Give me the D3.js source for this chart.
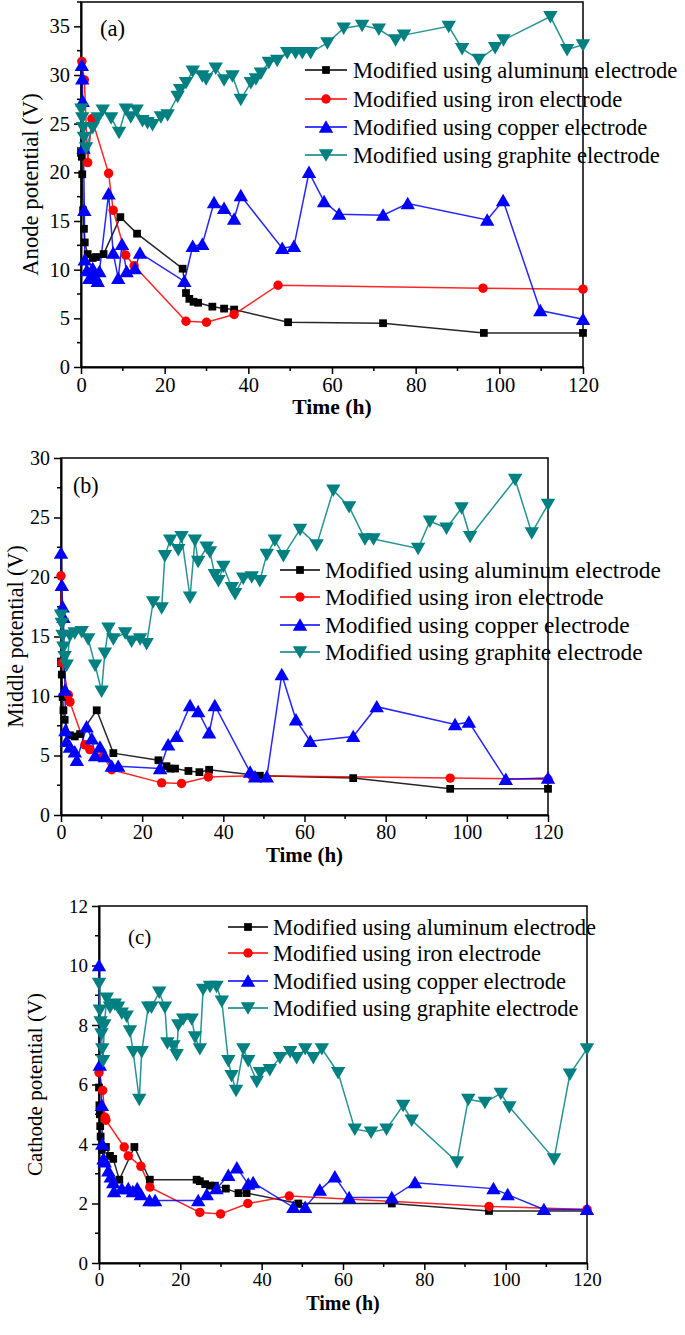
<!DOCTYPE html>
<html><head><meta charset="utf-8">
<script src="https://cdn.jsdelivr.net/npm/d3@7"></script>
<style>body{margin:0;background:#fff}svg{display:block}text{font-family:"Liberation Serif","Times New Roman",serif;fill:#000}</style>
</head><body>
<svg id="c" width="685" height="1335"></svg>
<script>
// ---------- data ----------
const seriesNames = ["Modified using aluminum electrode","Modified using iron electrode","Modified using copper electrode","Modified using graphite electrode"];
const xTicks = [0,20,40,60,80,100,120];
const yTicksA = [0,5,10,15,20,25,30,35];
const yTicksB = [0,5,10,15,20,25,30];
const yTicksC = [0,2,4,6,8,10,12];

// (a) Anode potential
const aAluminum = [[0,22],[0.2,21.6],[0.3,19.8],[0.5,16.1],[0.7,14.2],[0.9,12.8],[1.6,11.6],[2.8,11.2],[3.6,11.3],[5.4,11.6],[9.4,15.4],[13.4,13.7],[24.3,10.1],[25.1,7.6],[25.9,7],[26.9,6.7],[28,6.6],[31.4,6.2],[34.2,6],[36.6,5.9],[49.5,4.6],[72.2,4.5],[96.3,3.5],[120,3.5]];
const aIron = [[0.2,31.4],[0.8,29.5],[1.6,21],[2.6,25.5],[6.6,19.9],[7.7,16.1],[10.7,11.5],[12.7,10.4],[25.1,4.7],[30,4.6],[36.6,5.4],[47.1,8.4],[96.1,8.1],[120,8]];
const aCopper = [[0.2,31],[0.3,29.6],[0.4,27.3],[0.6,22.5],[0.8,16.1],[0.9,11],[1.4,9.9],[2,9.1],[2.8,10.1],[3.4,9.3],[4,8.8],[4.4,9.8],[6.6,17.8],[7.7,11.7],[8.9,9.1],[9.8,12.6],[10.9,9.8],[12.9,10.1],[14.1,11.7],[24.7,8.8],[26.7,12.4],[29,12.6],[31.8,16.9],[34.2,16.3],[36.6,15.2],[38.2,17.6],[48.1,12.2],[50.9,12.4],[54.5,20],[58.1,17],[61.7,15.7],[72.2,15.6],[78.1,16.8],[97.1,15.1],[100.9,17.1],[109.8,5.8],[120,4.9]];
const aGraphite = [[0.1,26.5],[0.3,25.6],[0.5,24.6],[0.7,23.6],[1.2,22.5],[2.8,24.6],[4,25.6],[5.2,26.4],[7.2,25.6],[9.1,24.1],[10.7,26.5],[11.9,25.7],[13.3,26.4],[14.7,25.3],[15.9,25.1],[17.1,24.9],[19.1,25.7],[20.7,25.9],[23.1,27.8],[23.7,28.5],[25.1,29.2],[26.7,30.4],[29,29.9],[29.9,29.6],[32.2,30.7],[34.2,29.5],[36.2,29.9],[38.2,27.5],[40.6,29.2],[41.8,29.6],[43,30.2],[44.9,31.3],[46.9,31.5],[49.3,32.3],[51.3,32.3],[52.9,32.3],[54.9,32.3],[58.9,33.3],[62.8,34.8],[67.2,35.1],[71.2,34.7],[75.2,33.6],[77.2,34.1],[87.9,35],[91.1,32.7],[95.1,31.6],[99,32.8],[101,33.6],[112.2,36],[116.2,32.6],[120,33.1]];

// (b) Middle potential
const bAluminum = [[0,12.9],[0.2,11.8],[0.4,9.9],[0.6,8.8],[0.9,8],[2.2,6.7],[3.4,6.6],[4.7,6.8],[8.8,8.8],[12.9,5.2],[24,4.6],[26,4.1],[26.9,3.9],[28.1,3.9],[31.4,3.7],[34.1,3.6],[36.5,3.8],[49,3.3],[72,3.1],[95.9,2.2],[120,2.2]];
const bIron = [[0,20.1],[0.3,12.8],[1.8,10.1],[2.2,9.5],[5.9,5.9],[7.1,5.5],[10.4,4.9],[12.5,3.8],[24.8,2.7],[29.7,2.65],[36.3,3.2],[47,3.3],[95.9,3.1],[120,3.0]];
const bCopper = [[0,22],[0.2,19.3],[0.4,17.5],[0.6,16.6],[1,10.5],[1.1,7.1],[1.4,6.2],[2.2,5.7],[3.4,5.3],[3.9,4.6],[6.3,7.4],[7.6,6.4],[8.4,5],[9.6,5.7],[10.8,4.9],[12.5,4.1],[14.1,4.1],[24.4,3.9],[26.4,5.9],[28.5,6.6],[31.8,9.2],[33.8,8.7],[36.5,6.9],[37.9,9.2],[46.6,3.6],[47.8,3.2],[50.7,3.2],[54.4,11.8],[57.9,8],[61.4,6.2],[72,6.6],[77.8,9.1],[97.1,7.6],[100.5,7.8],[109.6,3],[120,3.1]];
const bGraphite = [[0,16.8],[0.2,16.1],[0.4,15.1],[0.6,14.1],[0.9,13.3],[1.4,12.6],[2.2,15.1],[3.4,15.3],[5.1,15.4],[6.7,14.8],[8.4,12.6],[10,10.4],[10.8,13.6],[11.7,15.7],[12.9,14.8],[15.8,15.3],[17.4,14.6],[19.5,14.8],[21.1,14.4],[22.7,17.9],[24.8,17.4],[25.6,21.8],[26.9,23.1],[28.9,22.3],[29.7,23.4],[31.8,18.3],[33,23.1],[33.8,21.3],[35.9,22.5],[36.7,22.1],[37.9,20.2],[38.8,19.7],[40,20.9],[42.1,19.1],[42.9,18.6],[44.9,19.9],[47,20],[49,19.7],[50.7,21.9],[52.7,23.1],[54.8,21.8],[58.9,24],[63,22.7],[67.1,27.3],[71,25.9],[74.9,23.2],[77,23.2],[88,22.4],[90.9,24.7],[95,24.1],[98.7,25.8],[100.8,23.4],[111.9,28.2],[116,23.7],[120,26.1]];

// (c) Cathode potential
const cAluminum = [[0,5.9],[0.1,5.3],[0.2,5],[0.3,4.6],[0.4,4.25],[0.7,3.8],[1.7,3.9],[2.7,3.6],[3.5,3.5],[5,2.8],[8.7,3.9],[12.5,2.8],[24,2.8],[24.8,2.75],[26.1,2.65],[27.3,2.6],[28.5,2.6],[31.2,2.5],[34.3,2.35],[36.3,2.35],[49,2],[72,2],[95.9,1.75],[120,1.75]];
const cIron = [[0,6.4],[0.9,5.8],[1.5,4.9],[1.7,4.8],[6.2,3.9],[7.2,3.6],[10.3,3.25],[12.5,2.55],[24.8,1.7],[29.9,1.65],[36.6,2],[46.8,2.25],[95.9,1.9],[120,1.8]];
const cCopper = [[0,10],[0.2,6.65],[0.7,5.3],[0.8,4],[1.1,3.5],[1.4,3.4],[2.3,3.1],[2.9,2.9],[3.5,2.7],[3.7,2.4],[5.6,2.5],[7.2,2.5],[8.3,2.4],[9.4,2.5],[10.3,2.3],[12.4,2.1],[13.8,2.1],[24.4,2.1],[26.5,2.3],[28.9,2.5],[31.8,2.95],[33.9,3.2],[36.7,2.65],[37.9,2.7],[47.8,1.87],[50.7,1.87],[54.3,2.45],[58,2.9],[61.5,2.2],[72,2.2],[77.7,2.7],[97,2.5],[100.5,2.3],[109.4,1.8],[120,1.8]];
const cGraphite = [[0,9.4],[0.2,8.5],[0.4,8.1],[0.6,7.7],[0.8,7.2],[1,6.8],[1.3,8],[1.9,8.9],[2.7,8.6],[3.9,8.7],[4.7,8.6],[5.6,8.4],[6.8,8.3],[7.6,7.8],[8.4,7.1],[9.9,5.5],[10.5,7.1],[12.1,8.6],[12.9,8.6],[14.8,9.1],[16.2,8.6],[16.8,7.4],[18.3,7.3],[19.1,7],[19.5,8],[20.7,8.2],[22.8,8.2],[23.6,7.6],[24.8,7.2],[25.6,9.2],[27.3,9.3],[28.9,9.3],[30.2,8.8],[31.8,6.8],[32.6,6.3],[33.7,5.8],[35.5,7.2],[36.7,6.8],[38.8,6.1],[39.6,6.4],[42,6.5],[44.5,6.9],[47,7.1],[48.6,6.9],[50.7,7.2],[52.7,6.9],[54.8,7.2],[58.8,6.4],[62.9,4.5],[66.9,4.4],[70.7,4.5],[74.8,5.3],[76.9,4.8],[88,3.4],[90.8,5.5],[94.9,5.4],[98.8,5.7],[100.9,5.25],[111.9,3.5],[115.8,6.35],[120,7.2]];

// ---------- drawing ----------
const colors = ["#000000","#ff0000","#0000ff","#008080"];
const svg = d3.select("#c");

const panels = [
  {series:[aAluminum,aIron,aCopper,aGraphite], yTicks:yTicksA, yMax:37.5, yMinor:2.5, fs:1.08, lfs:22.6,
   box:{l:81,r:583,t:2,b:367}, label:"(a)", labelPos:[100,36], ytitle:"Anode potential (V)", ytx:30,
   leg:{x0:305,x1:347,tx:353,y:[70,99,127,155]}},
  {series:[bAluminum,bIron,bCopper,bGraphite], yTicks:yTicksB, yMax:30, yMinor:2.5, fs:1.05, lfs:23.4,
   box:{l:61,r:548,t:458,b:815}, label:"(b)", labelPos:[73,493], ytitle:"Middle potential (V)", ytx:15,
   leg:{x0:280,x1:320,tx:325,y:[570,597,625,652]}},
  {series:[cAluminum,cIron,cCopper,cGraphite], yTicks:yTicksC, yMax:12, yMinor:1, fs:1.0, lfs:22.5,
   box:{l:99,r:587,t:906,b:1263}, label:"(c)", labelPos:[128,944], ytitle:"Cathode potential (V)", ytx:35,
   leg:{x0:228,x1:268,tx:273,y:[927,953,981,1008]}}
];

const symbols = [d3.symbolSquare, d3.symbolCircle, d3.symbolTriangle, d3.symbolTriangle];
const symSizes = [60, 70, 90, 90];
const rotations = [0,0,0,180];

function drawMarker(g, i, x, y){
  g.append("path")
    .attr("d", d3.symbol().type(symbols[i]).size(symSizes[i])())
    .attr("transform", `translate(${x},${y}) rotate(${rotations[i]})` + (i>=2 ? ` translate(0,1.5)`:""))
    .attr("fill", colors[i]);
}

panels.forEach(p => {
  const {l,r,t,b} = p.box;
  const f = p.fs;
  const x = d3.scaleLinear().domain([0,120]).range([l,r]);
  const y = d3.scaleLinear().domain([0,p.yMax]).range([b,t]);
  const g = svg.append("g");

  // frame
  g.append("rect").attr("x",l).attr("y",t).attr("width",r-l).attr("height",b-t)
    .attr("fill","none").attr("stroke","#000").attr("stroke-width",1.5);

  // minor ticks
  const xMinor = d3.range(10,120,20);
  g.selectAll(null).data(xMinor).join("line")
    .attr("x1",d=>x(d)).attr("x2",d=>x(d)).attr("y1",b).attr("y2",b+4)
    .attr("stroke","#000").attr("stroke-width",1.5);
  const yMinorVals = d3.range(p.yMinor, p.yMax+0.001, p.yMinor*2);
  g.selectAll(null).data(yMinorVals).join("line")
    .attr("x1",l-4).attr("x2",l).attr("y1",d=>y(d)).attr("y2",d=>y(d))
    .attr("stroke","#000").attr("stroke-width",1.5);

  // axes
  const xa = g.append("g").attr("transform",`translate(0,${b})`)
    .call(d3.axisBottom(x).tickValues(xTicks).tickSize(7).tickSizeOuter(0).tickPadding(3));
  const ya = g.append("g").attr("transform",`translate(${l},0)`)
    .call(d3.axisLeft(y).tickValues(p.yTicks).tickSize(7).tickSizeOuter(0).tickPadding(4));
  [xa,ya].forEach(a=>{
    a.attr("font-family",null);
    a.select(".domain").attr("stroke-width",2);
    a.selectAll(".tick line").attr("stroke-width",1.5);
    a.selectAll("text").attr("font-size",19*f);
  });

  // axis titles
  g.append("text").attr("x",(l+r)/2).attr("y",b+47).attr("text-anchor","middle")
    .attr("font-size",20*f).attr("font-weight","bold").text("Time (h)");
  g.append("text").attr("transform",`translate(${p.ytx},${(t+b)/2}) rotate(-90)`)
    .attr("text-anchor","middle").attr("dy","0.35em").attr("font-size",21*f).text(p.ytitle);

  // panel label
  g.append("text").attr("x",p.labelPos[0]).attr("y",p.labelPos[1]).attr("font-size",21*f).text(p.label);

  // series
  const line = d3.line().x(d=>x(d[0])).y(d=>y(d[1]));
  p.series.forEach((s,i)=>{
    g.append("path").datum(s).attr("d",line).attr("fill","none")
      .attr("stroke",colors[i]).attr("stroke-width",1.5).attr("opacity",0.85);
  });
  p.series.forEach((s,i)=>{
    s.forEach(d=>drawMarker(g,i,x(d[0]),y(d[1])));
  });

  // legend
  seriesNames.forEach((n,i)=>{
    const ly = p.leg.y[i];
    g.append("line").attr("x1",p.leg.x0).attr("x2",p.leg.x1).attr("y1",ly).attr("y2",ly)
      .attr("stroke",colors[i]).attr("stroke-width",1.5);
    drawMarker(g,i,(p.leg.x0+p.leg.x1)/2,ly);
    g.append("text").attr("x",p.leg.tx).attr("y",ly).attr("dy","0.35em")
      .attr("font-size",p.lfs).text(n);
  });
});
</script>
</body></html>
